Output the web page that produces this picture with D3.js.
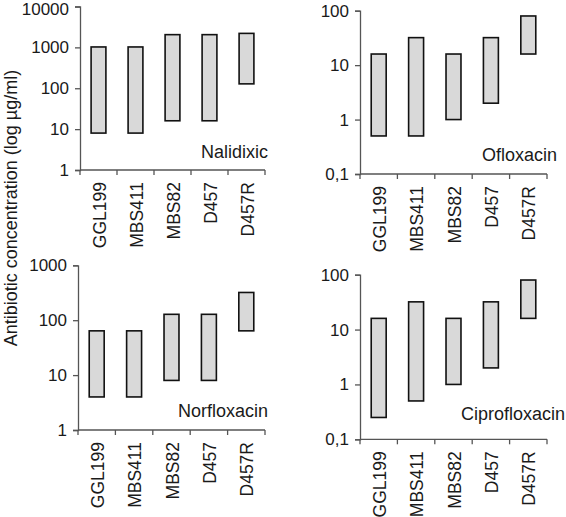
<!DOCTYPE html>
<html><head><meta charset="utf-8">
<script src="https://cdn.jsdelivr.net/npm/d3@7"></script>
<style>body{margin:0;background:#fff}svg{display:block}text{font-family:Arial,"Liberation Sans",sans-serif;fill:#1a1a1a}</style>
</head><body>
<svg id="chart" width="566" height="517"></svg>
<script>
const categories = ["GGL199","MBS411","MBS82","D457","D457R"];
const nalidixicLow = [8,8,16,16,128];
const nalidixicHigh = [1024,1024,2048,2048,2200];
const ofloxacinLow = [0.5,0.5,1,2,16];
const ofloxacinHigh = [16,32,16,32,80];
const norfloxacinLow = [4,4,8,8,64];
const norfloxacinHigh = [64,64,128,128,320];
const ciprofloxacinLow = [0.25,0.5,1,2,16];
const ciprofloxacinHigh = [16,32,16,32,80];
const yTitle = "Antibiotic concentration (log µg/ml)";

const panels = [
  {name:"Nalidixic", low:nalidixicLow, high:nalidixicHigh, domain:[1,10000], ticks:[1,10,100,1000,10000], box:{l:80,r:265,t:6.5,b:170}, lx:3, ly:12},
  {name:"Ofloxacin", low:ofloxacinLow, high:ofloxacinHigh, domain:[0.1,100], ticks:[0.1,1,10,100], box:{l:360,r:547,t:10.7,b:174}, lx:10, ly:13},
  {name:"Norfloxacin", low:norfloxacinLow, high:norfloxacinHigh, domain:[1,1000], ticks:[1,10,100,1000], box:{l:78,r:265,t:265.3,b:430}, lx:3, ly:13},
  {name:"Ciprofloxacin", low:ciprofloxacinLow, high:ciprofloxacinHigh, domain:[0.1,100], ticks:[0.1,1,10,100], box:{l:360,r:547,t:274.7,b:439.3}, lx:18, ly:19}
];

const svg = d3.select("#chart");
const fmt = v => String(v).replace(".", ",");

panels.forEach(p => {
  const b = p.box;
  const x = d3.scaleBand().domain(categories).range([b.l, b.r]).paddingInner(0.6).paddingOuter(0.3);
  const y = d3.scaleLog().domain(p.domain).range([b.b, b.t]);
  const g = svg.append("g");

  g.selectAll("rect").data(categories).join("rect")
    .attr("x", d => x(d))
    .attr("width", x.bandwidth())
    .attr("y", (d,i) => y(p.high[i]))
    .attr("height", (d,i) => y(p.low[i]) - y(p.high[i]))
    .attr("fill", "#d9d9d9").attr("stroke", "#111").attr("stroke-width", 1.6);

  const ya = g.append("g").attr("transform", `translate(${b.l},0)`)
    .call(d3.axisLeft(y).tickValues(p.ticks).tickFormat(fmt).tickSizeOuter(0).tickSize(5).tickPadding(6));
  ya.select(".domain").attr("stroke", "#555").attr("stroke-width", 1.3);
  ya.selectAll(".tick line").attr("stroke", "#555").attr("stroke-width", 1.3);
  ya.selectAll(".tick text").attr("font-size", 17).attr("font-family", "Arial, 'Liberation Sans', sans-serif").attr("fill", "#1a1a1a")
    .attr("y", d => (y(d) < 9 ? 9 - y(d) : 0));

  const xb = d3.scaleLinear().domain([0, categories.length]).range([b.l, b.r]);
  g.append("line").attr("x1", b.l).attr("x2", b.r).attr("y1", b.b).attr("y2", b.b)
    .attr("stroke", "#555").attr("stroke-width", 1.3);
  g.selectAll(".xt").data(d3.range(categories.length + 1)).join("line").attr("class","xt")
    .attr("x1", d => xb(d)).attr("x2", d => xb(d)).attr("y1", b.b).attr("y2", b.b + 5)
    .attr("stroke", "#555").attr("stroke-width", 1.3);
  g.selectAll(".xl").data(categories).join("text").attr("class","xl")
    .attr("transform", d => `translate(${x(d) + x.bandwidth()/2 + 1},${b.b + 12}) rotate(-90)`)
    .attr("text-anchor", "end").attr("dy", "0.35em").attr("font-size", 17.5)
    .text(d => d);

  g.append("text").attr("x", b.r + p.lx).attr("y", b.b - p.ly)
    .attr("text-anchor", "end").attr("font-size", 18).text(p.name);
});

svg.append("text").attr("transform", "translate(17,208) rotate(-90)")
  .attr("text-anchor", "middle").attr("font-size", 18).text(yTitle);
</script>
</body></html>
